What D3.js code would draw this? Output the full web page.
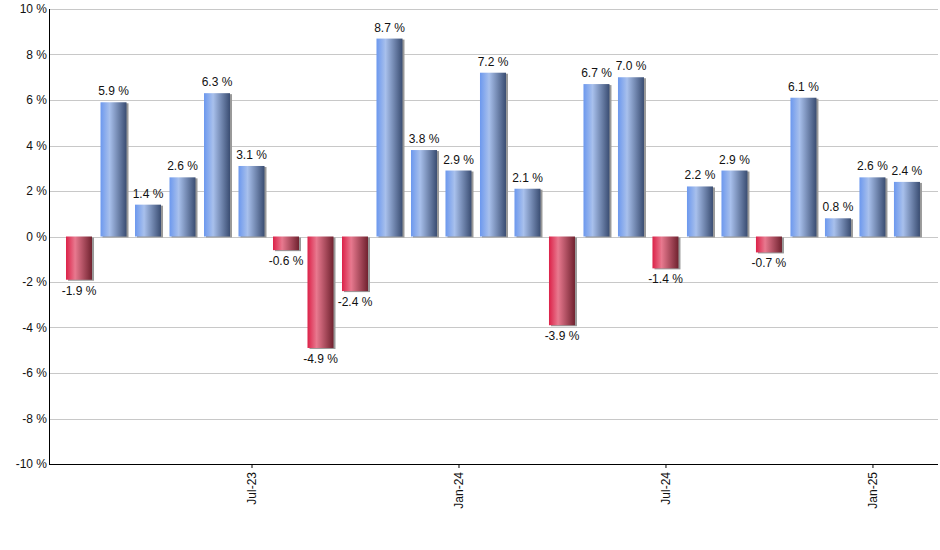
<!DOCTYPE html>
<html>
<head>
<meta charset="utf-8">
<script src="https://cdn.jsdelivr.net/npm/d3@7"></script>
<style>
  body { margin: 0; background: #fff; }
  text { font-family: "Liberation Sans", Arial, sans-serif; font-size: 12px; fill: #111; }
  .grid line { stroke: #c8c8c8; }
</style>
</head>
<body>
<svg id="chart" width="940" height="550"></svg>
<script>
// monthly returns, Feb-23 .. Feb-25
const months = ['Feb-23', 'Mar-23', 'Apr-23', 'May-23', 'Jun-23', 'Jul-23', 'Aug-23', 'Sep-23', 'Oct-23',
  'Nov-23', 'Dec-23', 'Jan-24', 'Feb-24', 'Mar-24', 'Apr-24', 'May-24', 'Jun-24', 'Jul-24', 'Aug-24',
  'Sep-24', 'Oct-24', 'Nov-24', 'Dec-24', 'Jan-25', 'Feb-25'];
const values = [-1.9, 5.9, 1.4, 2.6, 6.3, 3.1, -0.6, -4.9, -2.4, 8.7, 3.8, 2.9, 7.2, 2.1, -3.9, 6.7, 7.0,
  -1.4, 2.2, 2.9, -0.7, 6.1, 0.8, 2.6, 2.4];
const xTickLabels = ['Jul-23', 'Jan-24', 'Jul-24', 'Jan-25'];
const yTicks = [-10, -8, -6, -4, -2, 0, 2, 4, 6, 8, 10];

const svg = d3.select('#chart');
const plot = {left: 49, right: 938, top: 9, bottom: 464};
const barW = 26;

const x = d3.scaleLinear().domain([-0.87, 24.9]).range([plot.left, plot.right]);
const y = d3.scaleLinear().domain([-10, 10]).range([plot.bottom, plot.top]);

const defs = svg.append('defs');
function gradient(id, c0, c1, c2) {
  const g = defs.append('linearGradient').attr('id', id)
    .attr('x1', '0%').attr('x2', '100%').attr('y1', '0%').attr('y2', '0%');
  g.append('stop').attr('offset', '0%').attr('stop-color', c0);
  g.append('stop').attr('offset', '35%').attr('stop-color', c1);
  g.append('stop').attr('offset', '100%').attr('stop-color', c2);
}
gradient('gPos', '#6c98ee', '#a8c0ec', '#3a4d72');
gradient('gNeg', '#dc2148', '#e8798f', '#70222f');

// grid
svg.append('g').attr('class', 'grid')
  .selectAll('line').data(yTicks).join('line')
  .attr('x1', plot.left).attr('x2', plot.right)
  .attr('y1', (d) => Math.round(y(d)) + 0.5).attr('y2', (d) => Math.round(y(d)) + 0.5);

// y labels
svg.append('g').selectAll('text').data(yTicks).join('text')
  .attr('x', plot.left - 2).attr('y', (d) => y(d) + 4)
  .attr('text-anchor', 'end')
  .text((d) => d + ' %');

// bars
const bars = svg.append('g').selectAll('g').data(values).join('g');
bars.append('rect')
  .attr('x', (d, i) => x(i) - barW / 2 + 2)
  .attr('y', (d) => Math.min(y(d), y(0)) + 1)
  .attr('width', barW)
  .attr('height', (d) => Math.abs(y(d) - y(0)))
  .attr('fill', '#999');
bars.append('rect')
  .attr('x', (d, i) => x(i) - barW / 2)
  .attr('y', (d) => Math.min(y(d), y(0)))
  .attr('width', barW)
  .attr('height', (d) => Math.abs(y(d) - y(0)))
  .attr('fill', (d) => d >= 0 ? 'url(#gPos)' : 'url(#gNeg)');
bars.append('text')
  .attr('x', (d, i) => x(i))
  .attr('y', (d) => d >= 0 ? y(d) - 7 : y(d) + 15)
  .attr('text-anchor', 'middle')
  .text((d) => d.toFixed(1) + ' %');

// axes
svg.append('line').attr('x1', plot.left + 0.5).attr('x2', plot.left + 0.5)
  .attr('y1', plot.top).attr('y2', plot.bottom)
  .attr('stroke', '#000');
const xAxis = d3.axisBottom(x)
  .tickValues(xTickLabels.map((m) => months.indexOf(m)))
  .tickFormat((i) => months[i])
  .tickSize(4);
const gx = svg.append('g').attr('transform', `translate(0,${plot.bottom})`).call(xAxis);
gx.select('.domain').attr('d', `M${plot.left},0.5H${plot.right}`).attr('stroke', '#000');
gx.selectAll('.tick line').attr('stroke', '#000');
gx.selectAll('.tick text')
  .attr('font-size', null).attr('font-family', null)
  .attr('transform', 'rotate(-90)')
  .attr('text-anchor', 'end')
  .attr('x', -8).attr('y', 0).attr('dy', '0.35em');
gx.attr('font-size', null).attr('font-family', null);
</script>
</body>
</html>
